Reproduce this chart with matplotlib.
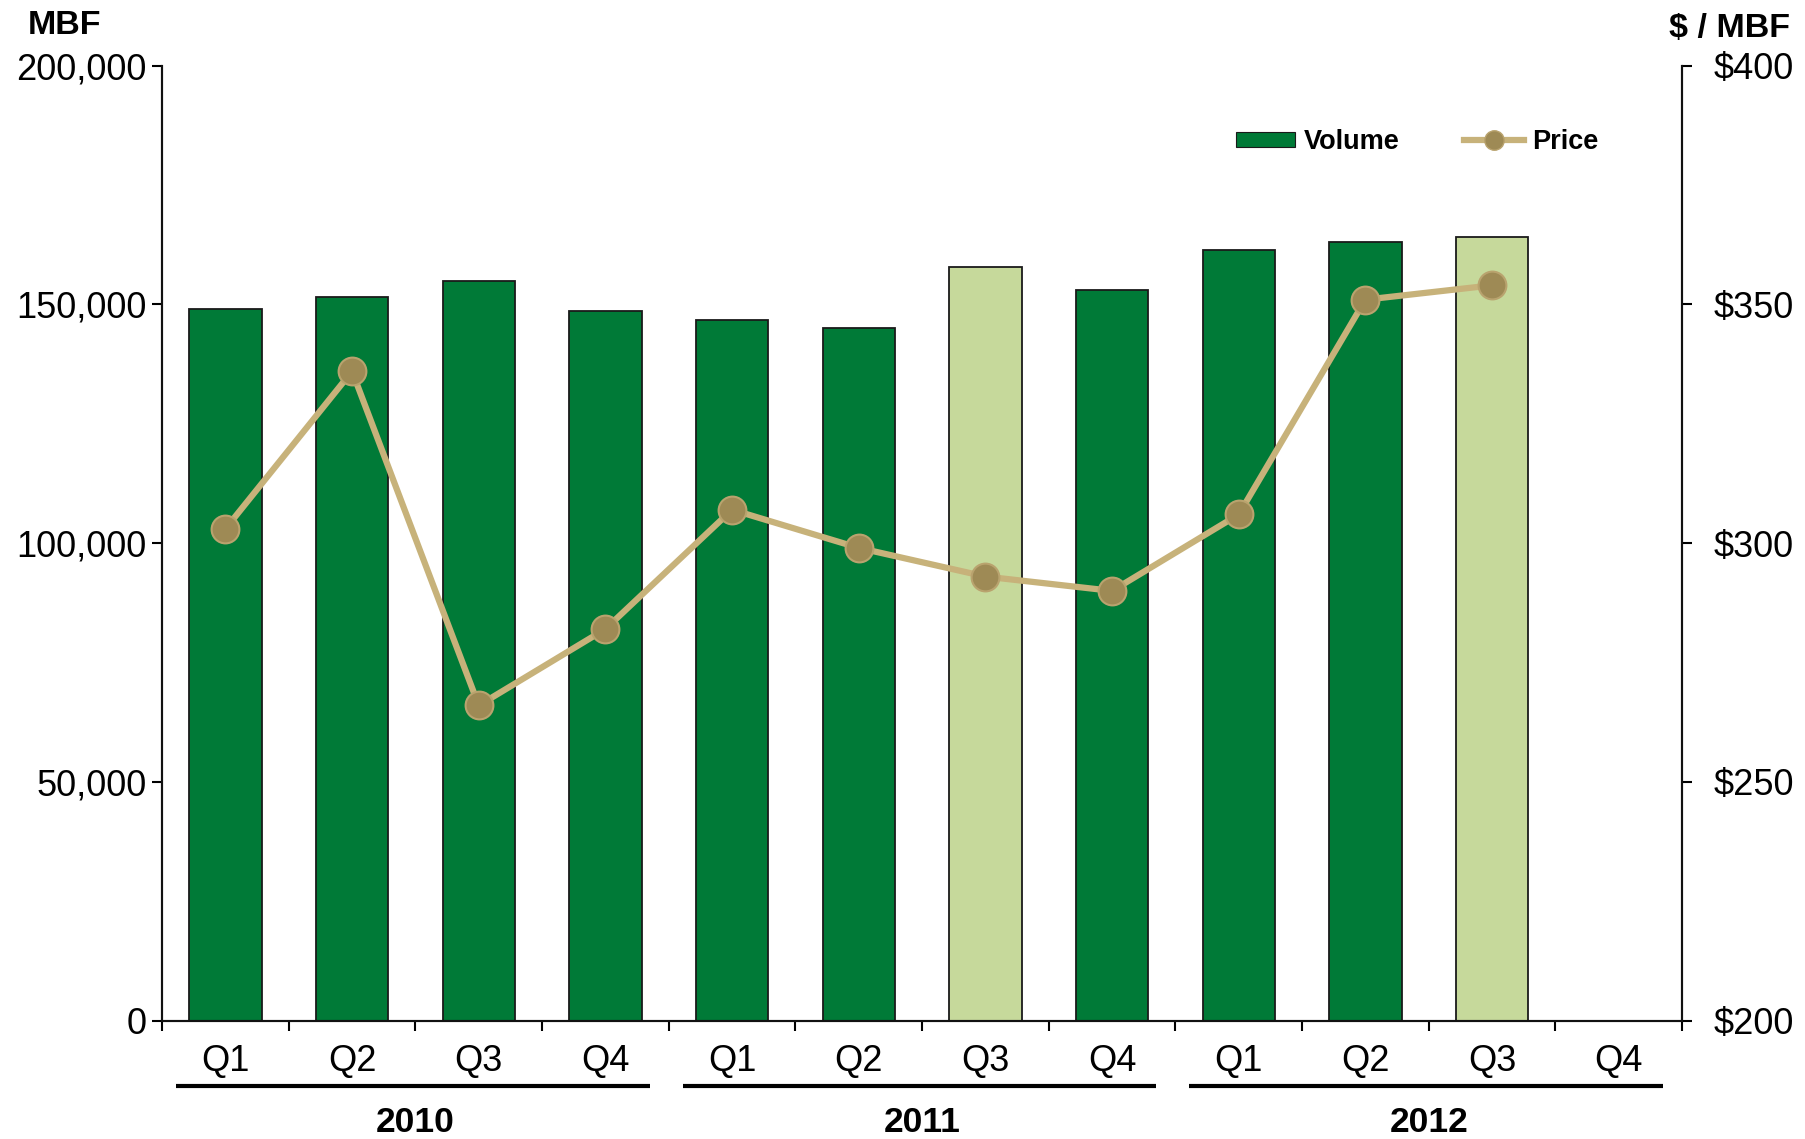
import matplotlib
matplotlib.use("Agg")
import matplotlib.pyplot as plt
from matplotlib.patches import Patch
from matplotlib.lines import Line2D
from matplotlib.ticker import FuncFormatter
import matplotlib.transforms as mtransforms

plt.rcParams['font.family'] = ['Liberation Sans', 'DejaVu Sans']

quarters = ["Q1", "Q2", "Q3", "Q4", "Q1", "Q2", "Q3", "Q4", "Q1", "Q2", "Q3", "Q4"]
years = ["2010", "2011", "2012"]
volume = [149100, 151500, 154900, 148600, 146700, 145000, 157800, 153000, 161400, 163100, 164100]
price = [303, 336, 266, 282, 307, 299, 293, 290, 306, 351, 354]
highlight = [False, False, False, False, False, False, True, False, False, False, True]

DARK = "#007A37"
LIGHT = "#C6D99B"
LINE = "#C7B27A"
MARK = "#9E8A55"

fig = plt.figure(figsize=(18.05, 11.39), dpi=100)
ax = fig.add_axes([0.0898, 0.104, 0.8421, 0.8383])
ax2 = ax.twinx()

x = list(range(len(volume)))
colors = [LIGHT if h else DARK for h in highlight]
ax.bar(x, volume, width=0.57, color=colors, edgecolor="#1a1a1a", linewidth=1.3, zorder=2)

ax.set_xlim(-0.5, len(quarters) - 0.5)
ax.set_ylim(0, 200000)
ax.set_yticks([0, 50000, 100000, 150000, 200000])
ax.yaxis.set_major_formatter(FuncFormatter(lambda v, p: f"{int(v):,}"))

ax2.plot(x, price, color=LINE, linewidth=4.5, marker="o", markersize=20,
         markerfacecolor=MARK, markeredgecolor="#B9A36E", markeredgewidth=1.5,
         solid_capstyle="round", zorder=3)
ax2.set_ylim(200, 400)
ax2.set_yticks([200, 250, 300, 350, 400])
ax2.yaxis.set_major_formatter(FuncFormatter(lambda v, p: f"${int(v)}"))

# spines
for a in (ax, ax2):
    a.spines['top'].set_visible(False)
    for s in ('left', 'right', 'bottom'):
        a.spines[s].set_linewidth(1.5)
        a.spines[s].set_color("#111111")

ax.tick_params(axis='y', which='major', direction='out', length=7, width=1.5,
               labelsize=26, pad=4)
ax2.tick_params(axis='y', which='major', direction='out', length=7, width=1.5,
                labelsize=26, pad=16)

# x ticks: boundaries as major, categories as minor labels
bounds = [i - 0.5 for i in range(len(quarters) + 1)]
ax.set_xticks(bounds)
ax.set_xticklabels([""] * len(bounds))
ax.set_xticks(list(range(len(quarters))), minor=True)
ax.set_xticklabels(quarters, minor=True)
ax.tick_params(axis='x', which='major', direction='out', length=7, width=1.5)
ax.tick_params(axis='x', which='minor', length=0, labelsize=26, pad=17)

# year group lines and labels
trans = mtransforms.blended_transform_factory(ax.transData, ax.transAxes)
for gi, yr in enumerate(years):
    start = gi * 4
    end = gi * 4 + 3
    ax.plot([start - 0.39, end + 0.35], [-0.0686, -0.0686], transform=trans,
            color="black", linewidth=3, clip_on=False, solid_capstyle="butt")
    ax.text((start + end) / 2, -0.107, yr, transform=trans, ha="center", va="center",
            fontsize=25.5, fontweight="bold")

# axis unit labels
fig.text(65 / 1805, 1 - 25 / 1139, "MBF", ha="center", va="center",
         fontsize=24.5, fontweight="bold")
fig.text(1790 / 1805, 1 - 29 / 1139, "$ / MBF", ha="right", va="center",
         fontsize=24.5, fontweight="bold")

# legend
handles = [Patch(facecolor=DARK, edgecolor="#1a1a1a", linewidth=0.8),
           Line2D([0], [0], color=LINE, linewidth=4.5, marker="o", markersize=14,
                  markerfacecolor=MARK, markeredgecolor="#B9A36E")]
leg = ax2.legend(handles, ["Volume", "Price"], ncol=2, frameon=False,
                 loc="center", bbox_to_anchor=(1417 / 1805, 1 - 142 / 1139),
                 bbox_transform=fig.transFigure,
                 prop={"size": 19.5, "weight": "bold"},
                 handlelength=2.2, handleheight=0.5, handletextpad=0.3,
                 columnspacing=2.4)

fig.savefig("out.png", dpi=100)
